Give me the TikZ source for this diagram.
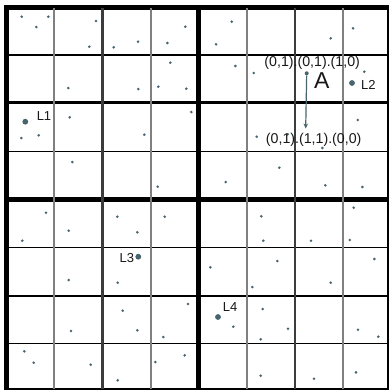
\documentclass[tikz,border=0pt]{standalone}
\usepackage{fontspec}
\setmainfont{Liberation Sans}
\usetikzlibrary{arrows.meta}
\definecolor{dotc}{RGB}{72,100,110}
\definecolor{txt}{RGB}{25,25,25}
\definecolor{thingray}{RGB}{128,128,128}
\definecolor{midgray}{RGB}{60,60,60}
\tikzset{
  sdot/.style={circle,fill=dotc,inner sep=0pt,minimum size=2.9pt},
  bdot/.style={circle,fill=dotc,inner sep=0pt,minimum size=5.8pt},
  adot/.style={circle,fill=dotc,inner sep=0pt,minimum size=4pt},
  lbl/.style={font=\fontsize{13}{13}\selectfont,text=txt,inner sep=0pt},
  clbl/.style={font=\fontsize{14.2}{14}\selectfont,text=txt,inner sep=0pt},
  biglbl/.style={font=\fontsize{23}{23}\selectfont,text=txt,inner sep=0pt},
  hthin/.style={draw=black,line width=1.4pt},
  hmid/.style={draw=black,line width=2.6pt},
  hthick/.style={draw=black,line width=5.5pt},
  vthin/.style={draw=thingray,line width=2pt},
  vmid/.style={draw=midgray,line width=2.8pt},
  vthick/.style={draw=black,line width=5.5pt},
  arr/.style={draw=dotc,line width=1.2pt,-{Stealth[length=5pt,width=4.5pt]}}
}
\begin{document}
\begin{tikzpicture}[x=1pt,y=-1pt]
\useasboundingbox (0,0) rectangle (389,391);
\fill[white] (0,0) rectangle (389,391);
% horizontal lines
\foreach \y in {55,151.5,247.3,343.3} \draw[hthin] (6.5,\y) -- (388,\y);
\foreach \y in {102.3,296} \draw[hmid] (6.5,\y) -- (388,\y);
\draw[hthick] (4,199.4) -- (388,199.4);
\draw[hthick] (4,7.5) -- (389,7.5);
\draw[draw=black,line width=1.6pt] (4,389) -- (389,389);
% vertical lines
\foreach \x in {54.3,151,247,343} \draw[vthin] (\x,7.5) -- (\x,389);
\foreach \x in {102.5,295} \draw[vmid] (\x,7.5) -- (\x,389);
\draw[vthick] (198.6,5) -- (198.6,389.5);
\draw[vthick] (6.5,5) -- (6.5,389.5);
\draw[draw=black,line width=2pt] (388,5) -- (388,389.5);
% small dots
\foreach \x/\y [count=\i] in {
 21.7/16.7, 48.3/16.7, 36.3/27, 96/21, 89.3/46.7, 113.7/47.3, 138/41.7, 167.3/43,
 185.3/26.7, 170.3/62.7, 68.3/88, 138.3/89, 158.3/86.7, 186.3/88.7, 69.7/117.3,
 21.3/138, 38.7/135.3, 191.3/112, 144.3/134.7, 72.3/162, 157.7/186.7,
 231.7/21.7, 216/44.3, 330.7/38.3, 353/28.3, 235.3/66, 253.7/73, 364.3/71.7,
 357.7/120, 256.7/136.7, 287.7/134.3, 322.3/148, 279.3/167.7, 225.7/182, 325.3/185.3, 362.3/187,
 46/212.7, 22.3/240.7, 68.7/230.7, 117.3/216.7, 137.3/232.3, 164.7/216.7, 68.7/280, 117.7/282.7,
 122.7/310.7, 137.3/330.3, 71/331, 188/304, 163.3/337, 24.3/351.3, 33.7/362.7, 90.7/364.7,
 117.7/380.3, 155.3/362, 184.7/355.3,
 261.3/216.3, 263.3/240.7, 311/240.7, 349.7/240, 353.7/207.7, 210.3/267.3, 277.3/261, 252.3/287,
 330.7/282.7, 374.3/259, 233.3/326.7, 262.7/309, 288/328.7, 260.7/339.3, 358/329.7, 378.3/336.7,
 260.7/375.7, 314/378.7, 356/372.3}
 \node[sdot] (d\i) at (\x,\y) {};
% landmark dots
\node[bdot] (l1) at (25.3,121.7) {};
\node[bdot] (l2) at (352,83) {};
\node[bdot] (l3) at (138.3,256.7) {};
\node[bdot] (l4) at (218,317) {};
\node[lbl] (t1) at (44,116.3) {L1};
\node[lbl] (t2) at (368.3,85) {L2};
\node[lbl] (t3) at (126.8,257.7) {L3};
\node[lbl] (t4) at (230,307.3) {L4};
% agent
\node[adot] (a) at (306.7,73.3) {};
\coordinate (aend) at (305.7,128.5);
\draw[arr] (a) -- (aend);
\node[biglbl] (ta) at (321.7,80.5) {A};
\node[clbl] (top) at (312.2,63.3) {(0,1).(0,1).(1,0)};
\node[clbl] (bot) at (313.7,140) {(0,1).(1,1).(0,0)};
\end{tikzpicture}
\end{document}
